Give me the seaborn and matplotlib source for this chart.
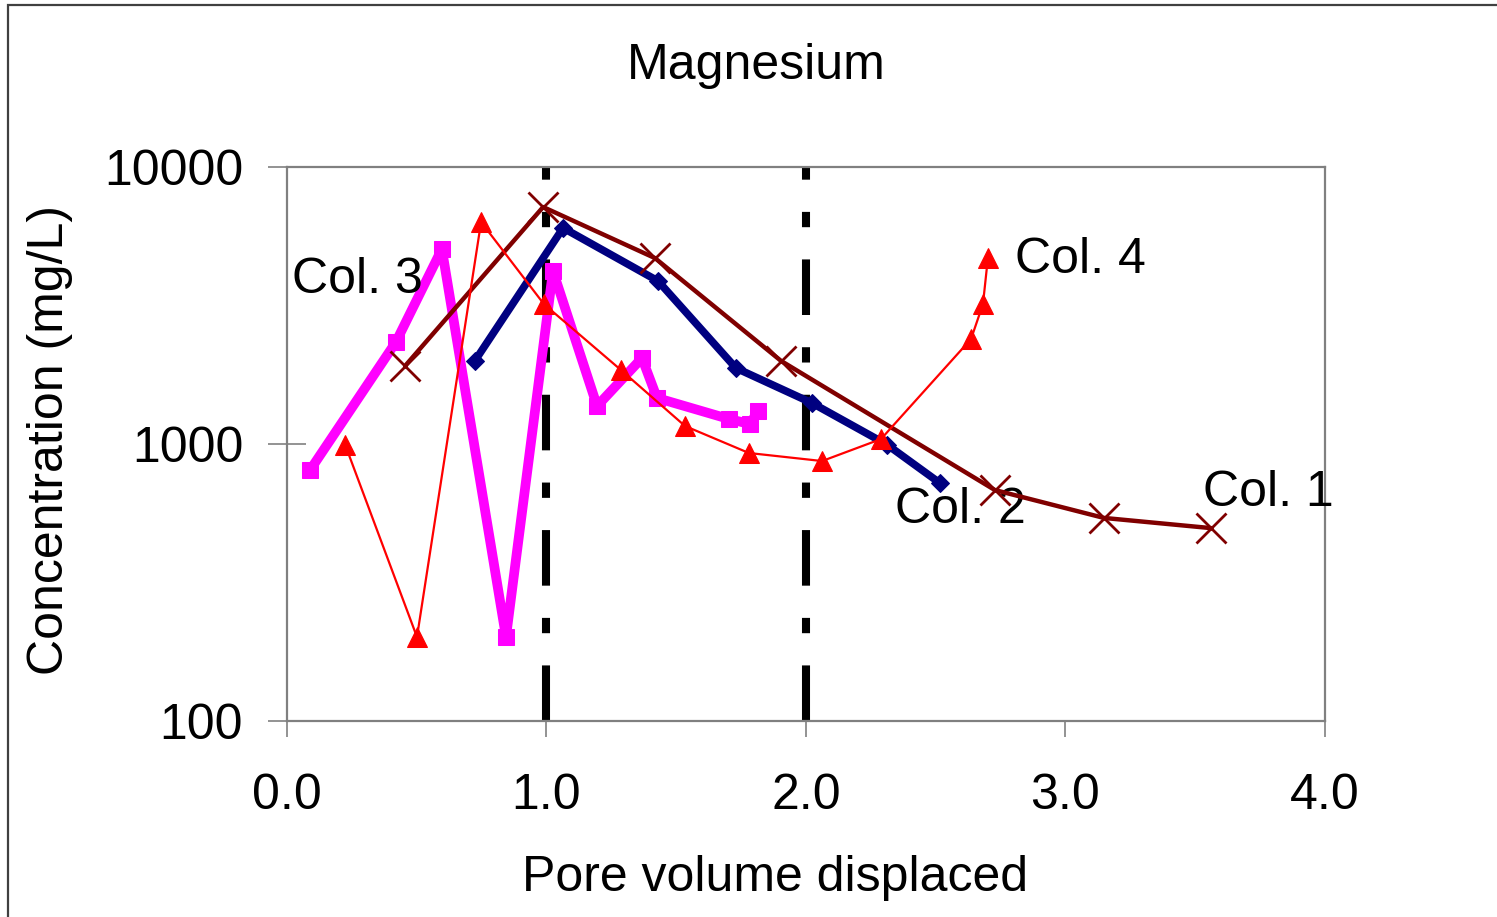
import matplotlib as mpl
import matplotlib.pyplot as plt
import seaborn as sns
from matplotlib.patches import Rectangle

mpl.use("agg")
sns.set_theme()
sns.set_style("white")
plt.rcParams["font.family"] = ["Liberation Sans", "DejaVu Sans"]
plt.rcParams["text.color"] = "black"

# Col. 1
col1_x = [0.455, 0.987, 1.418, 1.904, 2.728, 3.148, 3.561]
col1_y = [1913, 7170, 4690, 1995, 682, 541, 497]

# Col. 2
col2_x = [0.724, 1.064, 1.430, 1.730, 2.023, 2.312, 2.516]
col2_y = [1995, 6026, 3875, 1880, 1406, 995, 723]

# Col. 3
col3_x = [0.089, 0.420, 0.597, 0.844, 1.025, 1.195, 1.368, 1.426, 1.703, 1.784, 1.815]
col3_y = [805, 2335, 5056, 201, 4213, 1371, 2044, 1466, 1231, 1181, 1316]

# Col. 4
col4_x = [0.224, 0.501, 0.748, 0.990, 1.287, 1.534, 1.780, 2.062, 2.289, 2.636, 2.682, 2.701]
col4_y = [995, 201, 6330, 3200, 1850, 1161, 928, 868, 1042, 2393, 3200, 4690]

divider_x = [1.0, 2.0]
x_ticks = [0.0, 1.0, 2.0, 3.0, 4.0]
y_ticks = [100, 1000, 10000]

fig = plt.figure(figsize=(14.97, 9.17), dpi=100)
ax = fig.add_axes([0.1917, 0.2137, 0.6934, 0.6042])

for xv in divider_x:
    ax.axvline(xv, color="black", lw=5.8, dashes=(6.9, 4, 1.9, 4), zorder=2)

sns.lineplot(x=col3_x, y=col3_y, ax=ax, sort=False, estimator=None,
             color="#FF00FF", lw=7, marker="s", markersize=11,
             markeredgecolor="#FF00FF", markerfacecolor="#FF00FF", zorder=3)
sns.lineplot(x=col2_x, y=col2_y, ax=ax, sort=False, estimator=None,
             color="#000080", lw=5.5, marker="D", markersize=9,
             markeredgecolor="#000080", markerfacecolor="#000080", zorder=4)
sns.lineplot(x=col1_x, y=col1_y, ax=ax, sort=False, estimator=None,
             color="#800000", lw=3.2, marker="x", markersize=21,
             markeredgecolor="#800000", markeredgewidth=2, zorder=5)
sns.lineplot(x=col4_x, y=col4_y, ax=ax, sort=False, estimator=None,
             color="#FF0000", lw=1.6, marker="^", markersize=14,
             markeredgecolor="#FF0000", markerfacecolor="#FF0000", zorder=6)

ax.set_yscale("log")
ax.set_xlim(0, 4)
ax.set_ylim(100, 10000)
ax.set_xticks(x_ticks)
ax.set_xticklabels([f"{v:.1f}" for v in x_ticks])
ax.set_yticks(y_ticks)
ax.set_yticklabels([str(v) for v in y_ticks])
ax.yaxis.set_minor_locator(mpl.ticker.NullLocator())

for s in ax.spines.values():
    s.set_color("#808080")
    s.set_linewidth(1.6)
    s.set_visible(True)

ax.tick_params(axis="y", direction="inout", length=27, width=1.2,
               color="#808080", labelcolor="black", labelsize=36, pad=18,
               left=True)
ax.tick_params(axis="x", direction="out", length=11.5, width=1.2,
               color="#808080", labelcolor="black", labelsize=36, pad=26,
               bottom=True)

label_kw = dict(fontsize=36, color="black", va="center", ha="left")
ax.text(0.019, 3908, "Col. 3", **label_kw)
ax.text(2.805, 4615, "Col. 4", **label_kw)
ax.text(2.343, 578, "Col. 2", **label_kw)
ax.text(3.530, 665, "Col. 1", **label_kw)

fig.text(756 / 1497, 1 - 66 / 917, "Magnesium", fontsize=36, color="black",
         ha="center", va="center")
fig.text(775 / 1497, 1 - 878 / 917, "Pore volume displaced", fontsize=36,
         color="black", ha="center", va="center")
fig.text(50 / 1497, 1 - 440 / 917, "Concentration (mg/L)", fontsize=36,
         color="black", ha="center", va="center", rotation=90)

fig.patches.append(Rectangle((8 / 1497, -0.01), 1.0, 1 - 5 / 917 + 0.01,
                             transform=fig.transFigure, fill=False,
                             edgecolor="#404040", lw=1.6))

plt.savefig("out.png", dpi=100)
